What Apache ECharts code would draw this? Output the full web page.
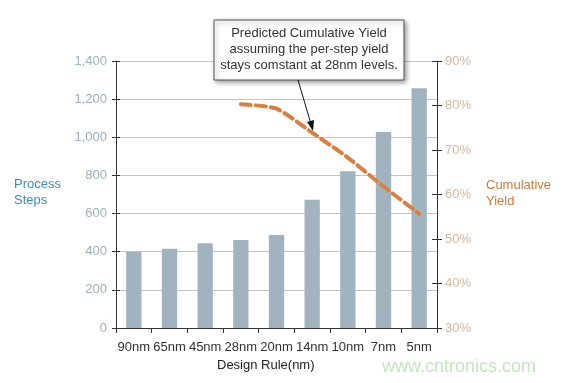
<!DOCTYPE html>
<html><head><meta charset="utf-8">
<script src="https://cdn.jsdelivr.net/npm/echarts@6/dist/echarts.min.js"></script>
<style>html,body{margin:0;padding:0;background:#fff}#c{width:565px;height:383px}</style>
</head><body><div id="c"></div>
<script>
var categories = ['90nm','65nm','45nm','28nm','20nm','14nm','10nm','7nm','5nm'];
var processSteps = [400, 415, 445, 462, 487, 672, 822, 1028, 1257];
var cumulativeYield = [null, null, null, 80.3, 79.3, 73.9, 68.3, 61.8, 55.7];
var leftTicks = {min: 0, max: 1400, interval: 200};
var rightTicks = {min: 30, max: 90, interval: 10};

var font = 'Liberation Sans, Arial, sans-serif';
var chart = echarts.init(document.getElementById('c'));
chart.setOption({
  animation: false,
  grid: {left: 116, right: 128, top: 61, bottom: 55},
  xAxis: {
    type: 'category', data: categories, boundaryGap: true,
    axisLine: {lineStyle: {color: '#333', width: 1}},
    axisTick: {show: true, length: 5, alignWithLabel: false, lineStyle: {color: '#333'}},
    axisLabel: {color: '#333', fontSize: 13, fontFamily: font, margin: 13, interval: 0}
  },
  yAxis: [
    {type: 'value', position: 'left', min: leftTicks.min, max: leftTicks.max, interval: leftTicks.interval,
     axisLine: {show: true, lineStyle: {color: '#333'}},
     axisTick: {show: true, length: 4, lineStyle: {color: '#333'}},
     axisLabel: {color: '#9db0bd', fontSize: 13, fontFamily: font, margin: 9,
       formatter: function(v){ return v.toLocaleString('en-US'); }},
     splitLine: {show: true, lineStyle: {color: '#c4c4c4', width: 1}}},
    {type: 'value', position: 'right', min: rightTicks.min, max: rightTicks.max, interval: rightTicks.interval,
     axisLine: {show: true, lineStyle: {color: '#333'}},
     axisTick: {show: true, length: 5, lineStyle: {color: '#333'}},
     axisLabel: {color: '#d6b89e', fontSize: 13, fontFamily: font, margin: 8, formatter: '{value}%'},
     splitLine: {show: false}},
    {type: 'value', position: 'left', min: leftTicks.min, max: leftTicks.max, interval: leftTicks.interval,
     axisLine: {show: false}, axisLabel: {show: false}, splitLine: {show: false},
     axisTick: {show: true, inside: true, length: 4, lineStyle: {color: '#333'}}},
    {type: 'value', position: 'right', min: rightTicks.min, max: rightTicks.max, interval: rightTicks.interval,
     axisLine: {show: false}, axisLabel: {show: false}, splitLine: {show: false},
     axisTick: {show: true, inside: true, length: 5, lineStyle: {color: '#333'}}}
  ],
  series: [
    {type: 'bar', data: processSteps, yAxisIndex: 0, barWidth: '43%',
     itemStyle: {color: '#a2b3c0'}},
    {type: 'line', data: cumulativeYield, yAxisIndex: 1, smooth: 0.2, symbol: 'none',
     connectNulls: false, z: 5,
     lineStyle: {color: '#d9803e', width: 4, type: [10, 5], cap: 'round'}}
  ],
  graphic: [
    {type: 'text', left: 14, top: 176, style: {text: 'Process\nSteps', fill: '#3f8db2', font: '13px ' + font, lineHeight: 16}},
    {type: 'text', left: 486, top: 177, style: {text: 'Cumulative\nYield', fill: '#c97b3c', font: '13px ' + font, lineHeight: 16}},
    {type: 'text', left: 217, top: 359, style: {text: 'Design Rule(nm)', fill: '#222', font: '13px ' + font}},
    {type: 'text', left: 382, top: 358, style: {text: 'www.cntronics.com', fill: '#c6e4c0', font: '18px ' + font}},
    {type: 'rect', shape: {x: 214, y: 20, width: 190, height: 60}, z: 10,
     style: {fill: '#fff', stroke: '#555', lineWidth: 1, shadowBlur: 5, shadowOffsetX: 2, shadowOffsetY: 2, shadowColor: 'rgba(0,0,0,0.4)'}},
    {type: 'text', x: 309, y: 26, z: 11,
     style: {text: 'Predicted Cumulative Yield\nassuming the per-step yield\nstays comstant at 28nm levels.',
       fill: '#333', font: '13px ' + font, align: 'center', lineHeight: 15.7}},
    {type: 'line', shape: {x1: 298, y1: 80, x2: 311, y2: 124}, z: 11, style: {stroke: '#111', lineWidth: 1}},
    {type: 'polygon', shape: {points: [[313, 131], [307, 122], [314, 120]]}, z: 11, style: {fill: '#111'}}
  ]
});
</script></body></html>
